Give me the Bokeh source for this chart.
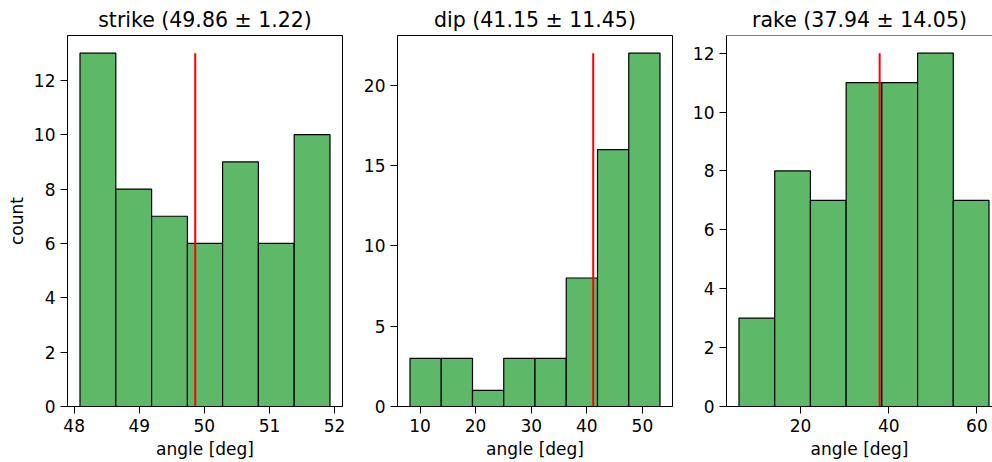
import numpy as np
from bokeh.plotting import figure
from bokeh.layouts import row
from bokeh.models import Range1d, FixedTicker, Span
from bokeh.embed import file_html
from bokeh.resources import INLINE

# ---- data ----
names = ["strike", "dip", "rake"]
means = [49.86, 41.15, 37.94]
stds = [1.22, 11.45, 14.05]

strike_edges = [48.09, 48.64, 49.19, 49.74, 50.28, 50.83, 51.38, 51.93]
strike_counts = [13, 8, 7, 6, 9, 6, 10]

dip_edges = [8.20, 13.82, 19.44, 25.06, 30.68, 36.30, 41.92, 47.54, 53.16]
dip_counts = [3, 3, 1, 3, 3, 8, 16, 22]

rake_edges = [6.04, 14.14, 22.24, 30.34, 38.44, 46.54, 54.64, 62.74]
rake_counts = [3, 8, 7, 11, 11, 12, 7]

strike_xticks = [48, 49, 50, 51, 52]
dip_xticks = [10, 20, 30, 40, 50]
rake_xticks = [20, 40, 60]
strike_yticks = [0, 2, 4, 6, 8, 10, 12]
dip_yticks = [0, 5, 10, 15, 20]
rake_yticks = [0, 2, 4, 6, 8, 10, 12]

FONT = "DejaVu Sans"
BAR = "#5db967"

H = 462
TOP, BOTTOM = 35, 56
FRAME_W = 275


def panel(name, mean, std, edges, counts, xticks, yticks, left_border, right_border,
          width, ylabel=None, clip_right=False):
    lo, hi = edges[0], edges[-1]
    span = hi - lo
    x0 = lo - 0.05 * span
    x1 = hi + 0.05 * span
    frame_w = width - left_border - right_border
    if clip_right:
        x1 = x0 + (x1 - x0) * frame_w / FRAME_W
    ytop = max(counts) * 1.05

    p = figure(width=width, height=H, output_backend="svg", toolbar_location=None,
               x_range=Range1d(x0, x1), y_range=Range1d(0, ytop),
               min_border_left=left_border, min_border_right=right_border,
               min_border_top=TOP, min_border_bottom=BOTTOM,
               title=f"{name} ({mean:.2f} \u00b1 {std:.2f})")
    p.title.text_font = FONT
    p.title.text_font_size = "20.5px"
    p.title.text_font_style = "normal"
    p.title.text_color = "black"
    p.title.align = "center"
    p.title.standoff = 8

    p.quad(left=edges[:-1], right=edges[1:], bottom=0, top=counts,
           fill_color=BAR, line_color="black", line_width=1.2)
    p.segment(x0=[mean], y0=[0], x1=[mean], y1=[max(counts)],
              line_color="red", line_width=2)

    p.xgrid.visible = False
    p.ygrid.visible = False
    p.background_fill_color = "white"
    p.border_fill_color = "white"
    if clip_right:
        p.outline_line_color = None
        p.add_layout(Span(location=ytop, dimension="width", line_color="black", line_width=1))
    else:
        p.outline_line_color = "black"
        p.outline_line_width = 1
        p.outline_line_alpha = 1

    p.xaxis.ticker = FixedTicker(ticks=xticks)
    p.yaxis.ticker = FixedTicker(ticks=yticks)
    p.xaxis.axis_label = "angle [deg]"
    if ylabel:
        p.yaxis.axis_label = ylabel
    for ax in (p.xaxis[0], p.yaxis[0]):
        ax.axis_line_color = "black"
        ax.axis_line_width = 1
        ax.major_tick_line_color = "black"
        ax.major_tick_out = 7
        ax.major_tick_in = 0
        ax.minor_tick_line_color = None
        ax.major_label_text_font = FONT
        ax.major_label_text_font_size = "17px"
        ax.major_label_text_color = "black"
        ax.major_label_standoff = 5
        ax.axis_label_text_font = FONT
        ax.axis_label_text_font_size = "17px"
        ax.axis_label_text_font_style = "normal"
        ax.axis_label_text_color = "black"
    p.xaxis.axis_label_standoff = 4
    p.yaxis.axis_label_standoff = 4
    return p


p1 = panel(names[0], means[0], stds[0], strike_edges, strike_counts, strike_xticks, strike_yticks,
           67, 15, 357, ylabel="count")
p2 = panel(names[1], means[1], stds[1], dip_edges, dip_counts, dip_xticks, dip_yticks,
           40, 15, 330)
p3 = panel(names[2], means[2], stds[2], rake_edges, rake_counts, rake_xticks, rake_yticks,
           39, 0, 305, clip_right=True)

layout = row(p1, p2, p3)
open("out.html", "w").write(file_html(layout, INLINE))
